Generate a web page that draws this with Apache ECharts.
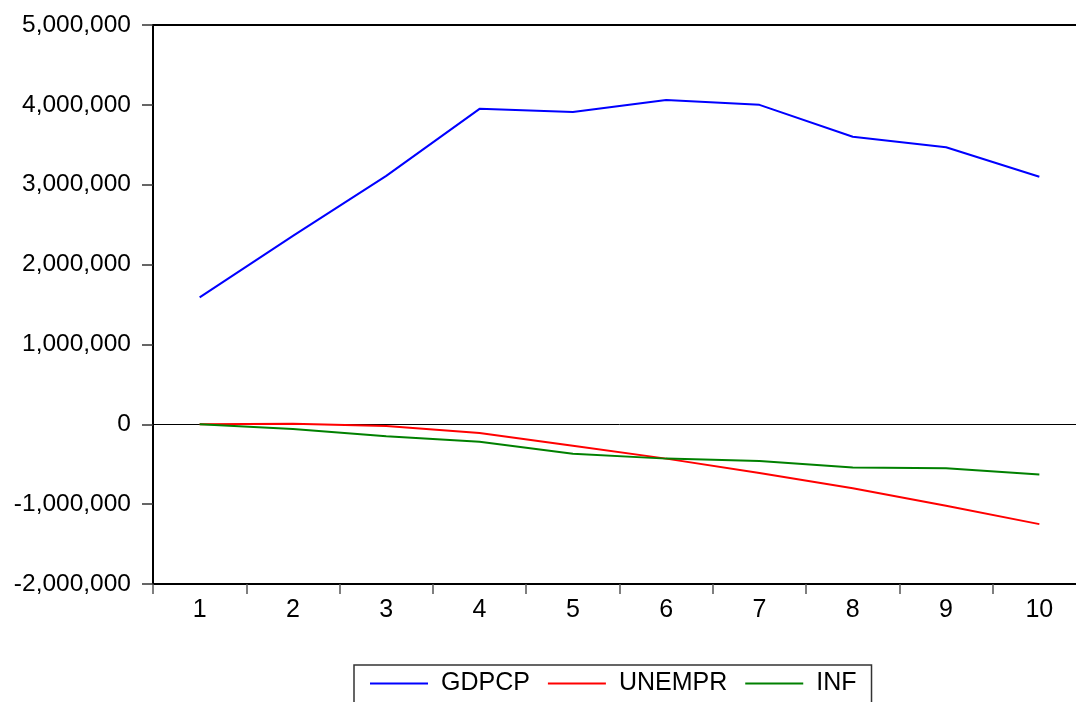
<!DOCTYPE html>
<html>
<head>
<meta charset="utf-8">
<title>GDPCP, UNEMPR, INF</title>
<script src="https://cdn.jsdelivr.net/npm/echarts@6/dist/echarts.min.js"></script>
<style>
  html, body { margin: 0; padding: 0; background: #ffffff; overflow: hidden; }
  /* the frame runs a little past the right edge of the window */
  #chart { width: 1090px; height: 702px; }
</style>
</head>
<body>
<div id="chart"></div>
<script>
// Periods on the horizontal axis
const periods = ['1', '2', '3', '4', '5', '6', '7', '8', '9', '10'];

// Series values
const gdpcp  = [1590000, 2360000, 3110000, 3950000, 3910000, 4060000, 4000000, 3600000, 3470000, 3100000];
const unempr = [0, 8000, -20000, -110000, -270000, -430000, -610000, -800000, -1020000, -1250000];
const inf    = [0, -60000, -150000, -220000, -370000, -430000, -460000, -540000, -550000, -630000];

// Value axis range
const yMin = -2000000;
const yMax = 5000000;
const yStep = 1000000;

const FONT = '"Liberation Sans", Arial, sans-serif';

function withCommas(v) {
  const s = Math.abs(v).toString().replace(/\B(?=(\d{3})+(?!\d))/g, ',');
  return (v < 0 ? '-' : '') + s;
}

function lineSeries(name, data, color, extra) {
  return Object.assign({
    name: name,
    type: 'line',
    data: data,
    symbol: 'none',
    smooth: false,
    lineStyle: { color: color, width: 2 },
    itemStyle: { color: color },
    emphasis: { disabled: true },
    z: 3
  }, extra || {});
}

const chart = echarts.init(document.getElementById('chart'), null, { renderer: 'canvas' });

chart.setOption({
  animation: false,
  backgroundColor: '#ffffff',
  textStyle: { fontFamily: FONT },
  grid: {
    show: true,
    left: 153,
    top: 25,
    width: 933,
    bottom: 118,
    borderColor: '#000000',
    borderWidth: 2,
    backgroundColor: 'transparent'
  },
  legend: {
    left: 354,
    top: 665,
    padding: [6, 15, 30, 16],
    itemWidth: 58,
    itemHeight: 2,
    itemGap: 18,
    icon: 'rect',
    borderColor: '#333333',
    borderWidth: 1.5,
    textStyle: { fontFamily: FONT, fontSize: 25, color: '#000000', padding: [0, 0, 0, 8] },
    data: ['GDPCP', 'UNEMPR', 'INF']
  },
  xAxis: {
    type: 'category',
    data: periods,
    boundaryGap: true,
    axisLine: { show: true, onZero: false, lineStyle: { color: '#000000', width: 2 } },
    axisTick: { show: true, inside: false, length: 10, lineStyle: { color: '#555555', width: 1.5 } },
    axisLabel: { fontFamily: FONT, fontSize: 25, color: '#000000', margin: 14 },
    splitLine: { show: false }
  },
  yAxis: {
    type: 'value',
    min: yMin,
    max: yMax,
    interval: yStep,
    axisLine: { show: true, lineStyle: { color: '#000000', width: 2 } },
    axisTick: { show: true, inside: false, length: 11, lineStyle: { color: '#333333', width: 1.5 } },
    axisLabel: {
      fontFamily: FONT,
      fontSize: 24.5,
      color: '#000000',
      margin: 22,
      formatter: withCommas
    },
    splitLine: { show: false }
  },
  series: [
    lineSeries('GDPCP', gdpcp, '#0000ff', {
      markLine: {
        silent: true,
        symbol: ['none', 'none'],
        label: { show: false },
        lineStyle: { color: '#000000', width: 1, type: 'solid' },
        data: [{ yAxis: 0 }],
        z: 2
      }
    }),
    lineSeries('UNEMPR', unempr, '#ff0000'),
    lineSeries('INF', inf, '#008000')
  ]
});
</script>
</body>
</html>
